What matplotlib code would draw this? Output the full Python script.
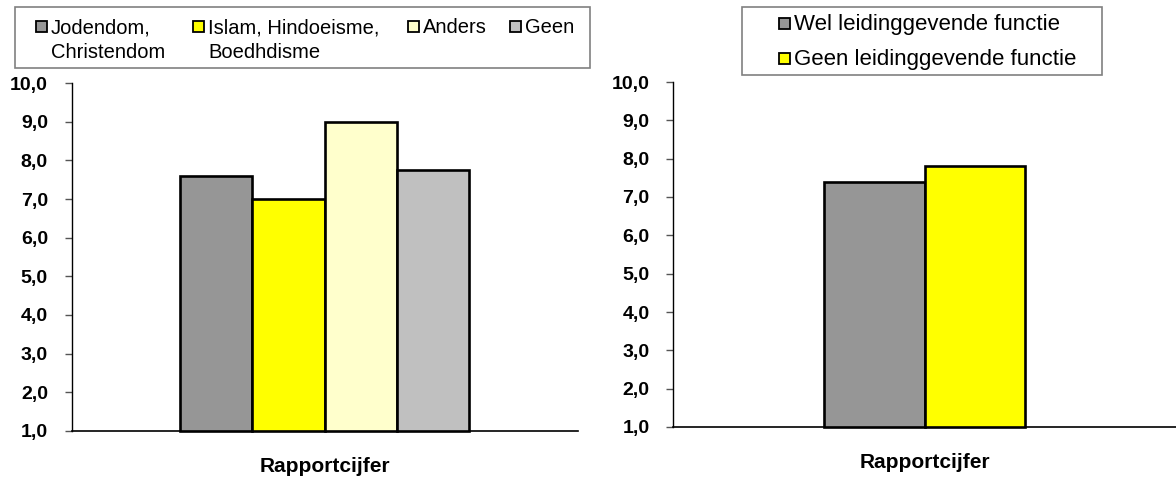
import matplotlib
matplotlib.use("Agg")
import matplotlib.pyplot as plt
from matplotlib.patches import Rectangle

plt.rcParams['font.family'] = ['Liberation Sans', 'DejaVu Sans']

# left chart: geloof
geloof_labels = ["Jodendom,\nChristendom", "Islam, Hindoeisme,\nBoedhdisme", "Anders", "Geen"]
geloof_values = [7.6, 7.0, 9.0, 7.75]
geloof_colors = ["#969696", "#FFFF00", "#FFFFCC", "#C0C0C0"]

# right chart: leidinggevende functie
functie_labels = ["Wel leidinggevende functie", "Geen leidinggevende functie"]
functie_values = [7.4, 7.8]
functie_colors = ["#969696", "#FFFF00"]

y_ticks = [1, 2, 3, 4, 5, 6, 7, 8, 9, 10]
x_label = "Rapportcijfer"

W, H = 1176, 479


def fx(px):
    return px / W


def fy(py):
    return 1 - py / H


def style_axis(ax):
    """
    side effects: set the spines, ticks and label of one axis
    """
    ax.set_ylim(1, 10)
    ax.set_yticks(y_ticks)
    ax.set_yticklabels([("%.1f" % t).replace(".", ",") for t in y_ticks],
                       fontsize=14, fontweight="bold")
    ax.set_xticks([])
    ax.spines["top"].set_visible(False)
    ax.spines["right"].set_visible(False)
    ax.spines["left"].set_linewidth(1.0)
    ax.spines["bottom"].set_linewidth(1.2)
    ax.tick_params(axis="y", direction="out", length=5, width=1.0,
                   color="#555555", pad=12)
    ax.set_xlabel(x_label, fontsize=15, fontweight="bold", labelpad=19)


def draw_bars(ax, values, colors):
    """
    side effects: draw the bars starting at 1 on the axis
    """
    xs = list(range(len(values)))
    heights = [v - 1 for v in values]
    ax.bar(xs, heights, bottom=1, width=1.0, color=colors,
           edgecolor="black", linewidth=1.9, zorder=3, clip_on=False)


def draw_legend(fig, box, items, fontsize):
    """
    side effects: draw a framed legend; box is (left, top, right, bottom) in pixels,
    items is a list of (handle_x, baseline_y, color, label) in pixels
    """
    left, top, right, bottom = box
    fig.patches.append(Rectangle((fx(left), fy(bottom)), fx(right - left), (bottom - top) / H,
                                 transform=fig.transFigure, facecolor="white",
                                 edgecolor="#808080", linewidth=1.2))
    for hx, base, color, label in items:
        fig.patches.append(Rectangle((fx(hx), fy(base - 1)), fx(11), 11 / H,
                                     transform=fig.transFigure, facecolor=color,
                                     edgecolor="black", linewidth=1.3))
        for i, line in enumerate(label.split("\n")):
            fig.text(fx(hx + 15), fy(base + i * 25), line, fontsize=fontsize,
                     va="baseline", ha="left")


fig = plt.figure(figsize=(W / 100, H / 100), dpi=100)

ax1 = fig.add_axes([fx(71.5), fy(431), fx(578 - 71.5), (431 - 83) / H])
draw_bars(ax1, geloof_values, geloof_colors)
ax1.set_xlim(-2.0, 5.0)
style_axis(ax1)

ax2 = fig.add_axes([fx(673), fy(427), fx(1176 - 673), (427 - 82) / H])
draw_bars(ax2, functie_values, functie_colors)
ax2.set_xlim(-2.0, 3.0)
style_axis(ax2)

left_x = [36, 193, 408, 510]
draw_legend(fig, (15, 7, 590, 68),
            [(x, 33, c, l) for x, c, l in zip(left_x, geloof_colors, geloof_labels)],
            14.5)

right_base = [30, 65]
draw_legend(fig, (742, 7, 1102, 75),
            [(779, b, c, l) for b, c, l in zip(right_base, functie_colors, functie_labels)],
            16)

fig.savefig("out.png", dpi=100)
